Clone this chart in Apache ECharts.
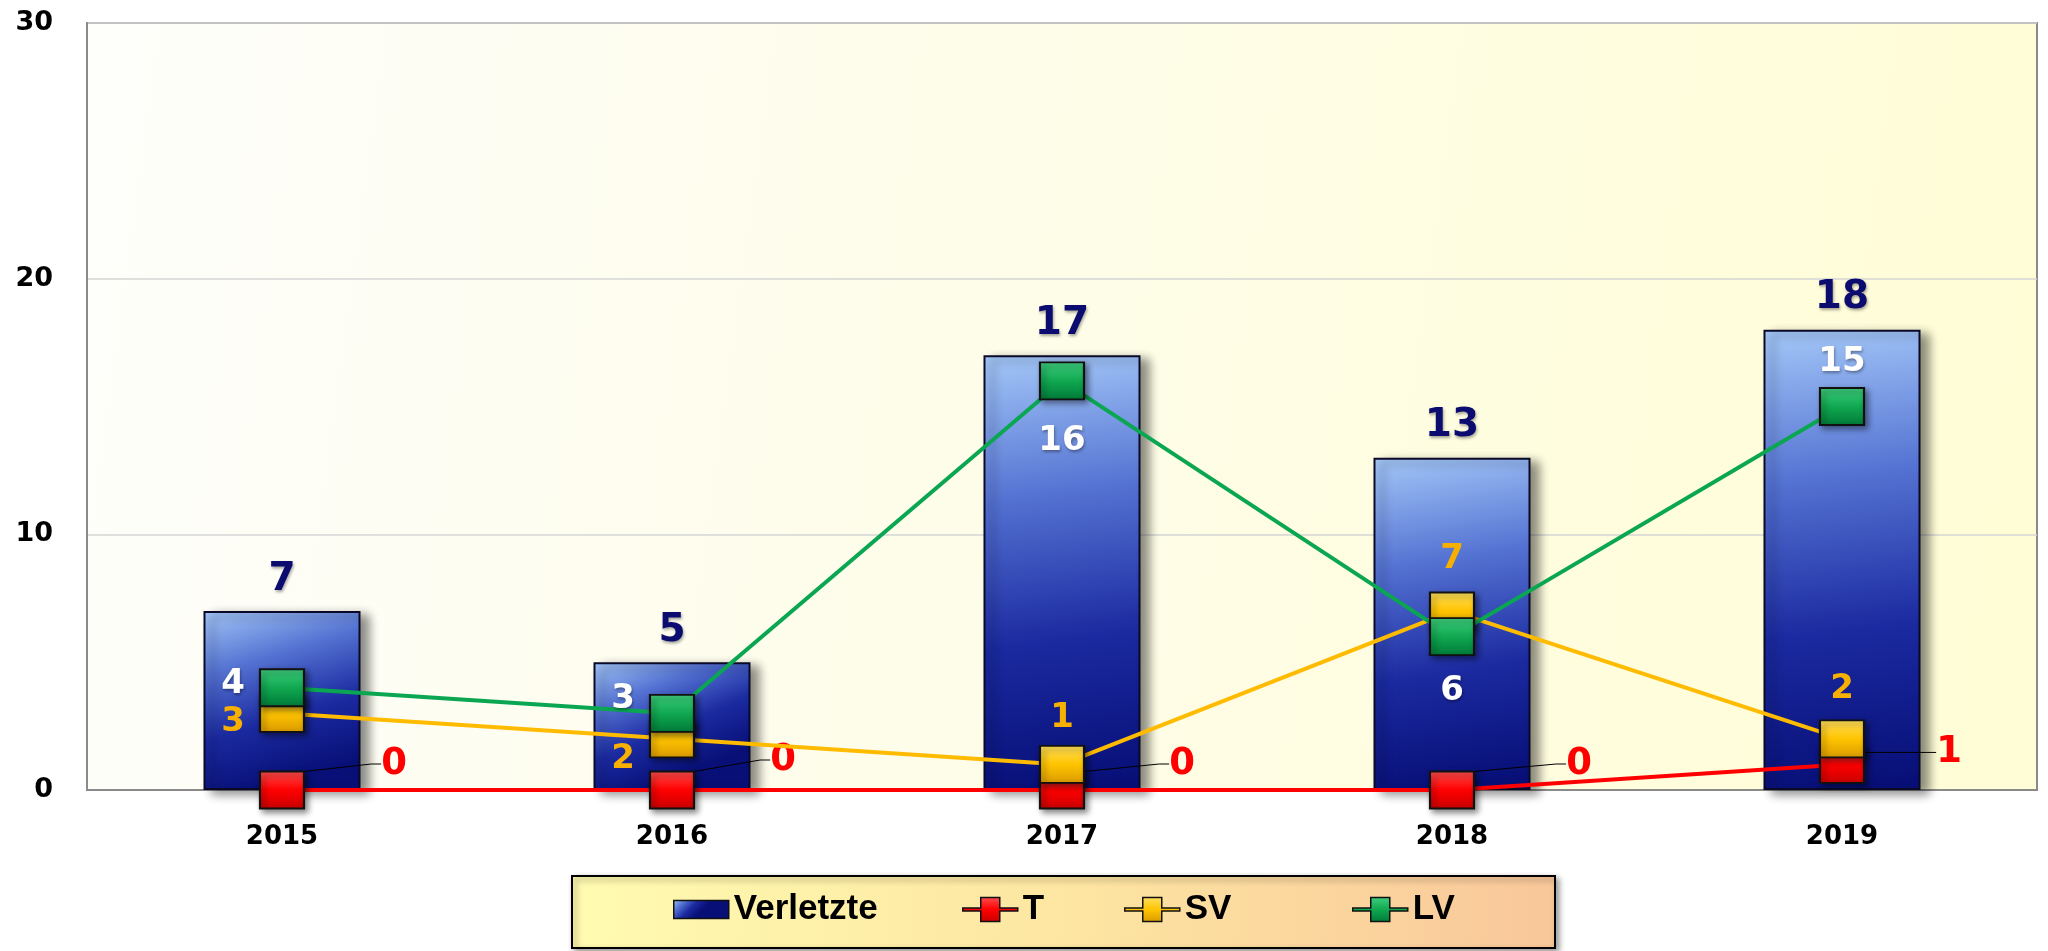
<!DOCTYPE html>
<html><head><meta charset="utf-8">
<script src="https://cdn.jsdelivr.net/npm/echarts@6/dist/echarts.min.js"></script>
<style>html,body{margin:0;padding:0;background:#fff}#c{width:2048px;height:951px}</style>
</head><body><div id="c"></div>
<script>
// ---- data ----
const categories = ['2015', '2016', '2017', '2018', '2019'];
const verletzte = [7, 5, 17, 13, 18];
const tValues = [0, 0, 0, 0, 1];
const svValues = [3, 2, 1, 7, 2];
const lvValues = [4, 3, 16, 6, 15];
const seriesNames = ['Verletzte', 'T', 'SV', 'LV'];
const yMin = 0, yMax = 30, yStep = 10;

// ---- styling helpers ----
const FONT = "'DejaVu Sans', Verdana, sans-serif";
const lin = (x, y, x2, y2, stops) => ({type: 'linear', x, y, x2, y2,
  colorStops: stops.map((c, i) => ({offset: i / (stops.length - 1), color: c}))});

const barFill = lin(0, 0, 0.35, 1, ['#a4c8f8', '#5472d2', '#1b2aa0', '#081078']);
const redFill = lin(0, 0, 0, 1, ['#ff5050', '#ff0000', '#c80000']);
const yelFill = lin(0, 0, 0, 1, ['#ffe060', '#ffc400', '#d99a00']);
const grnFill = lin(0, 0, 0, 1, ['#40d080', '#10a850', '#007a38']);

const lvPos = ['left', 'left', 'bottom', 'bottom', 'top'];
const lvDist = [14, 14, 24, 18, 8];
const lvOff = [[0, -4], [0, -14], [0, 0], [0, 0], [0, 0]];
const svPos = ['left', 'left', 'top', 'top', 'top'];
const svDist = [14, 14, 10, 15, 13];
const svOff = [[0, 9], [0, 20], [0, 0], [0, 0], [0, 0]];
const tDx = [112, 111, 120, 127, 107];
const tDy = [-26, -30, -26, -26, -12];

const labelShadow = {textShadowColor: 'rgba(0,0,0,0.35)', textShadowBlur: 3, textShadowOffsetX: 1, textShadowOffsetY: 2};
const markerSize = [44, 37];
const markerShadow = {shadowColor: 'rgba(0,0,0,0.45)', shadowBlur: 6, shadowOffsetX: 3, shadowOffsetY: 3};

const chart = echarts.init(document.getElementById('c'), null, {renderer: 'canvas'});

const legendText = {fontFamily: "'Liberation Sans Narrow', 'Liberation Sans', Arial, sans-serif", fontWeight: 'bold', fontSize: 35, color: '#000'};
const legendLefts = [673, 962, 1124, 1352];
const lineIcon = 'path://M0,10.5H18V0H37V10.5H55V13.5H37V24H18V13.5H0Z';
const legendIcons = ['rect', lineIcon, lineIcon, lineIcon];
const legendH = [18, 25, 25, 25];
const legends = seriesNames.map((n, i) => ({
  data: [{name: n, icon: legendIcons[i]}], left: legendLefts[i], top: 892, padding: 0,
  itemWidth: 55, itemHeight: legendH[i], itemGap: 8,
  textStyle: legendText, z: 10, selectedMode: false,
  itemStyle: {borderColor: '#111', borderWidth: 1.5}
}));

chart.setOption({
  animation: false,
  backgroundColor: '#ffffff',
  grid: {
    left: 87, right: 11, top: 23, bottom: 161, show: true,
    borderColor: '#8a8a8a', borderWidth: 2,
    backgroundColor: lin(0, 0, 1, 0.35, ['#fefefb', '#fefde8', '#fffdd6'])
  },
  graphic: [{
    type: 'rect', left: 571, top: 875, z: -1,
    shape: {width: 983, height: 72},
    style: {fill: lin(0, 0, 1, 0, ['#fffbb0', '#fde6a2', '#f9c79a']), stroke: '#000', lineWidth: 2,
      shadowColor: 'rgba(0,0,0,0.4)', shadowBlur: 6, shadowOffsetX: 3, shadowOffsetY: 3}
  }],
  legend: legends,
  xAxis: {
    type: 'category', data: categories,
    axisLine: {show: true, lineStyle: {color: '#8a8a8a', width: 2}},
    axisTick: {show: false},
    axisLabel: {fontFamily: FONT, fontWeight: 'bold', fontSize: 26, color: '#000', margin: 34}
  },
  yAxis: {
    type: 'value', min: yMin, max: yMax, interval: yStep,
    axisLine: {show: true, lineStyle: {color: '#8a8a8a', width: 2}},
    axisTick: {show: false},
    splitLine: {lineStyle: {color: '#d4d4d4', width: 1.5}},
    axisLabel: {fontFamily: FONT, fontWeight: 'bold', fontSize: 27, color: '#000', margin: 34}
  },
  series: [
    {
      name: 'Verletzte', type: 'bar', data: verletzte, barWidth: 157,
      itemStyle: {color: barFill, borderColor: '#0a0a28', borderWidth: 2,
        shadowColor: 'rgba(0,0,0,0.45)', shadowBlur: 10, shadowOffsetX: 8, shadowOffsetY: 4},
      label: Object.assign({show: true, position: 'top', distance: 12, fontFamily: FONT, fontWeight: 'bold',
        fontSize: 39, color: '#0c0c70'}, labelShadow),
      z: 2
    },
    {
      name: 'T', type: 'line', z: 3,
      data: tValues,
      symbol: 'rect', symbolSize: markerSize,
      lineStyle: {color: '#ff0000', width: 4},
      itemStyle: Object.assign({color: redFill, borderColor: '#111', borderWidth: 2}, markerShadow),
      label: {show: true, position: 'inside', fontFamily: FONT, fontWeight: 'bold', fontSize: 37, color: '#ff0000'},
      labelLayout: p => ({dx: tDx[p.dataIndex], dy: tDy[p.dataIndex]}),
      labelLine: {show: true, length2: 10, lineStyle: {color: '#000', width: 1}}
    },
    {
      name: 'SV', type: 'line', z: 4,
      data: svValues.map((v, i) => ({value: v, label: {position: svPos[i], distance: svDist[i], offset: svOff[i]}})),
      symbol: 'rect', symbolSize: markerSize,
      lineStyle: {color: '#ffbb00', width: 4},
      itemStyle: Object.assign({color: yelFill, borderColor: '#111', borderWidth: 2}, markerShadow),
      label: {show: true, fontFamily: FONT, fontWeight: 'bold', fontSize: 34, color: '#f7b000'}
    },
    {
      name: 'LV', type: 'line', z: 5,
      data: lvValues.map((v, i) => ({value: v, label: {position: lvPos[i], distance: lvDist[i], offset: lvOff[i]}})),
      symbol: 'rect', symbolSize: markerSize,
      lineStyle: {color: '#0aa652', width: 4},
      itemStyle: Object.assign({color: grnFill, borderColor: '#111', borderWidth: 2}, markerShadow),
      label: Object.assign({show: true, fontFamily: FONT, fontWeight: 'bold', fontSize: 34, color: '#ffffff'}, labelShadow)
    }
  ]
});
</script>
</body></html>
